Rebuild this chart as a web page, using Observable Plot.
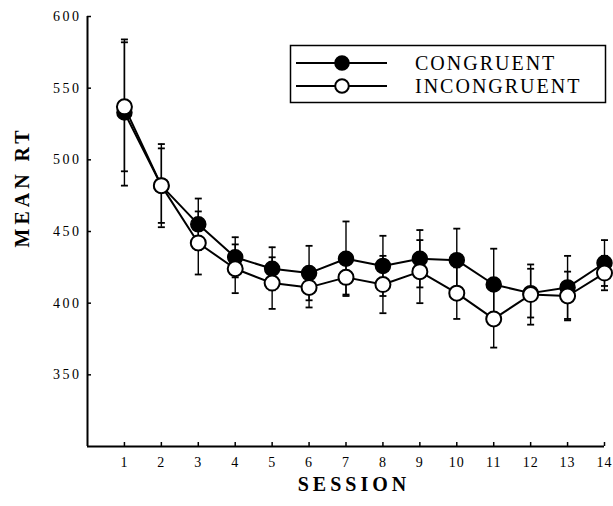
<!DOCTYPE html>
<html><head><meta charset="utf-8">
<script src="https://cdn.jsdelivr.net/npm/d3@7"></script>
<script src="https://cdn.jsdelivr.net/npm/@observablehq/plot@0.6"></script>
<style>
body{margin:0;background:#fff;}
#wrap{position:relative;width:613px;height:506px;overflow:hidden;}
#wrap svg{position:absolute;left:0;top:0;}
</style></head><body><div id="wrap"></div>
<script>
const sessions = [1,2,3,4,5,6,7,8,9,10,11,12,13,14];
const congruent = [533,482,455,432,424,421,431,426,431,430,413,407,411,428];
const congruentErr = [51,29,18,14,15,19,26,21,20,22,25,17,22,16];
const incongruent = [537,482,442,424,414,411,418,413,422,407,389,406,405,421];
const incongruentErr = [45,26,22,17,18,14,12,20,22,18,20,21,17,12];
const yTicks = [350,400,450,500,550,600];
const seriesNames = ["CONGRUENT","INCONGRUENT"];
const xTitle = "SESSION";
const yTitle = "MEAN RT";

const serif = "'Liberation Serif','Times New Roman',serif";
const cong = sessions.map((s,i)=>({session:s, mean:congruent[i], err:congruentErr[i], cond:seriesNames[0]}));
const inc = sessions.map((s,i)=>({session:s, mean:incongruent[i], err:incongruentErr[i], cond:seriesNames[1]}));
const rows = cong.concat(inc);
const cap = {draw(ctx,size){const w=Math.sqrt(size/Math.PI); ctx.moveTo(-w,0); ctx.lineTo(w,0);}};

const chart = Plot.plot({
  width:613, height:506,
  marginLeft:87, marginRight:9, marginTop:16, marginBottom:60,
  style:{fontFamily:serif, fontSize:"14px", color:"#000", background:"#fff"},
  x:{domain:[0,14], axis:null},
  y:{domain:[300,600], axis:null},
  marks:[
    Plot.ruleX(rows,{x:"session", y1:d=>d.mean-d.err, y2:d=>d.mean+d.err, stroke:"#000", strokeWidth:1.4}),
    Plot.dot(rows,{x:"session", y:d=>d.mean-d.err, symbol:cap, r:3.5, stroke:"#000", strokeWidth:1.8}),
    Plot.dot(rows,{x:"session", y:d=>d.mean+d.err, symbol:cap, r:3.5, stroke:"#000", strokeWidth:1.8}),
    Plot.line(cong,{x:"session", y:"mean", stroke:"#000", strokeWidth:2}),
    Plot.line(inc,{x:"session", y:"mean", stroke:"#000", strokeWidth:2}),
    Plot.dot(cong,{x:"session", y:"mean", r:7.5, fill:"#000", stroke:"#000", strokeWidth:1.5}),
    Plot.dot(inc,{x:"session", y:"mean", r:7.5, fill:"#fff", stroke:"#000", strokeWidth:2}),
    Plot.ruleX([0],{stroke:"#000", strokeWidth:2}),
    Plot.ruleY([300],{stroke:"#000", strokeWidth:2}),
    Plot.axisY({ticks:yTicks, tickSize:-4, text:null, label:null, strokeWidth:1.5}),
    Plot.axisX({ticks:sessions, tickSize:-4, text:null, label:null, strokeWidth:1.5}),
    Plot.axisY({ticks:yTicks, tickSize:0, tickPadding:6, label:null, fontSize:14, tickFormat:d=>String(d)}),
    Plot.axisX({ticks:sessions, tickSize:0, tickPadding:11, label:null, fontSize:14, tickFormat:d=>String(d)}),
    Plot.text([yTitle],{frameAnchor:"left", dx:-65, dy:16, rotate:-90, fontSize:20, fontWeight:"bold"}),
    Plot.text([xTitle],{frameAnchor:"bottom", dx:8, dy:44, fontSize:20, fontWeight:"bold"})
  ]
});
// letter spacing by text content
const yLabelSet = new Set(yTicks.map(String));
const xLabelSet = new Set(sessions.map(String));
d3.select(chart).selectAll("text").each(function(){
  const t = this.textContent;
  let sp = null;
  if (t === xTitle || t === yTitle) sp = "4px";
  else if (yLabelSet.has(t)) sp = "2.5px";
  else if (xLabelSet.has(t)) sp = "1px";
  if (sp) { this.style.letterSpacing = sp; this.setAttribute("letter-spacing", sp); }
});
document.getElementById("wrap").appendChild(chart);

// legend overlay
const lg = d3.select("#wrap").append("svg").attr("width",613).attr("height",506);
lg.append("rect").attr("x",290.5).attr("y",45.5).attr("width",315).attr("height",57).attr("fill","#fff").attr("stroke","#000").attr("stroke-width",1.5);
const rowsY = [63,86];
seriesNames.forEach((name,i)=>{
  const y = rowsY[i];
  lg.append("line").attr("x1",296).attr("x2",387).attr("y1",y).attr("y2",y).attr("stroke","#000").attr("stroke-width",2);
  lg.append("circle").attr("cx",342).attr("cy",y).attr("r",6.8).attr("fill",i===0?"#000":"#fff").attr("stroke","#000").attr("stroke-width",2);
  lg.append("text").attr("x",415).attr("y",y+7).attr("font-family",serif).attr("font-size",20).style("letter-spacing","2px").text(name);
});
</script></body></html>
